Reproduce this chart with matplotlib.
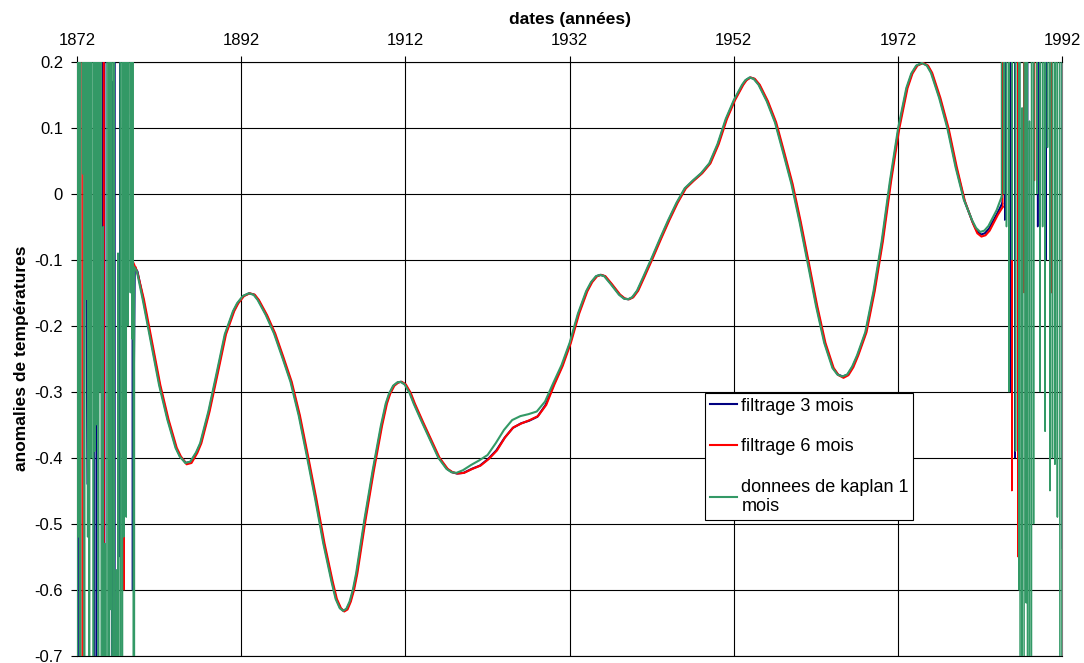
import numpy as np
import matplotlib
matplotlib.use("Agg")
import matplotlib.pyplot as plt

plt.rcParams['font.family'] = ['Liberation Sans', 'DejaVu Sans']
plt.rcParams['axes.unicode_minus'] = False
plt.rcParams['path.simplify'] = False

# ---------------- data ----------------
# filtered (smooth) part: years and anomaly values
years_smooth = [1879.0, 1879.3, 1880.0, 1881.0, 1882.0, 1883.0, 1884.0, 1884.5, 1885.2, 1885.8,
                1886.5, 1887.0, 1888.0, 1889.0, 1890.0, 1891.0, 1891.5, 1892.2, 1892.9, 1893.5,
                1894.0, 1895.0, 1896.0, 1897.0, 1898.0, 1899.0, 1900.0, 1901.0, 1902.0, 1903.0,
                1903.5, 1904.0, 1904.4, 1904.8, 1905.2, 1905.6, 1906.0, 1907.0, 1908.0, 1909.0,
                1909.6, 1910.0, 1910.5, 1911.0, 1911.4, 1911.9, 1912.5, 1913.0, 1914.0, 1915.0,
                1916.0, 1917.0, 1917.6, 1918.2, 1919.0, 1920.0, 1921.0, 1922.0, 1923.0, 1924.0,
                1925.0, 1926.0, 1927.0, 1928.0, 1929.0, 1930.0, 1931.0, 1932.0, 1933.0, 1934.0,
                1934.6, 1935.2, 1935.7, 1936.2, 1937.0, 1938.0, 1938.6, 1939.1, 1939.6, 1940.2,
                1941.0, 1942.0, 1943.0, 1944.0, 1945.0, 1946.0, 1947.0, 1948.0, 1949.0, 1950.0,
                1951.0, 1952.0, 1953.0, 1953.4, 1953.9, 1954.4, 1955.0, 1956.0, 1957.0, 1958.0,
                1959.0, 1960.0, 1961.0, 1962.0, 1963.0, 1964.0, 1964.6, 1965.2, 1965.8, 1966.4,
                1967.0, 1968.0, 1969.0, 1970.0, 1971.0, 1972.0, 1973.0, 1973.6, 1974.2, 1974.9,
                1975.5, 1976.0, 1977.0, 1978.0, 1979.0, 1980.0, 1981.0, 1981.5, 1982.0, 1982.5,
                1983.0, 1984.0, 1984.6]

kaplan_smooth = [-0.112, -0.118, -0.160, -0.225, -0.290, -0.342, -0.385, -0.398, -0.408, -0.406,
                 -0.392, -0.378, -0.330, -0.272, -0.213, -0.178, -0.166, -0.155, -0.151, -0.153,
                 -0.161, -0.184, -0.212, -0.248, -0.285, -0.336, -0.398, -0.462, -0.530, -0.588,
                 -0.614, -0.628, -0.632, -0.629, -0.618, -0.600, -0.575, -0.494, -0.420, -0.352,
                 -0.318, -0.303, -0.291, -0.286, -0.285, -0.289, -0.302, -0.318, -0.346, -0.373,
                 -0.400, -0.417, -0.422, -0.423, -0.419, -0.411, -0.404, -0.396, -0.378, -0.358,
                 -0.343, -0.337, -0.334, -0.330, -0.315, -0.287, -0.260, -0.226, -0.182, -0.148,
                 -0.134, -0.125, -0.123, -0.125, -0.137, -0.153, -0.159, -0.160, -0.157, -0.147,
                 -0.125, -0.097, -0.068, -0.040, -0.014, 0.008, 0.020, 0.031, 0.046, 0.075,
                 0.113, 0.142, 0.165, 0.172, 0.176, 0.174, 0.165, 0.140, 0.108, 0.062,
                 0.015, -0.043, -0.106, -0.170, -0.226, -0.264, -0.274, -0.277, -0.274, -0.262,
                 -0.245, -0.210, -0.148, -0.072, 0.019, 0.099, 0.160, 0.182, 0.194, 0.198,
                 0.194, 0.183, 0.145, 0.099, 0.040, -0.009, -0.040, -0.052, -0.058, -0.056,
                 -0.049, -0.025, -0.005]

filt3_smooth = [-0.112, -0.118, -0.160, -0.225, -0.290, -0.342, -0.385, -0.398, -0.408, -0.406,
                -0.392, -0.378, -0.330, -0.272, -0.213, -0.178, -0.166, -0.155, -0.151, -0.153,
                -0.161, -0.184, -0.212, -0.248, -0.285, -0.336, -0.398, -0.462, -0.530, -0.588,
                -0.614, -0.628, -0.632, -0.629, -0.618, -0.600, -0.575, -0.494, -0.420, -0.352,
                -0.318, -0.303, -0.291, -0.286, -0.285, -0.289, -0.302, -0.318, -0.346, -0.373,
                -0.400, -0.417, -0.422, -0.424, -0.423, -0.417, -0.412, -0.402, -0.389, -0.370,
                -0.355, -0.348, -0.344, -0.338, -0.320, -0.289, -0.261, -0.226, -0.182, -0.148,
                -0.134, -0.125, -0.123, -0.125, -0.137, -0.153, -0.159, -0.160, -0.157, -0.147,
                -0.125, -0.097, -0.068, -0.040, -0.014, 0.008, 0.020, 0.031, 0.046, 0.075,
                0.113, 0.142, 0.165, 0.172, 0.176, 0.174, 0.165, 0.140, 0.108, 0.062,
                0.015, -0.043, -0.106, -0.170, -0.226, -0.264, -0.274, -0.277, -0.274, -0.262,
                -0.245, -0.210, -0.148, -0.072, 0.019, 0.099, 0.160, 0.182, 0.194, 0.198,
                0.194, 0.183, 0.145, 0.099, 0.040, -0.010, -0.043, -0.056, -0.062, -0.060,
                -0.053, -0.030, -0.015]

filt6_smooth = [-0.112, -0.124, -0.160, -0.225, -0.290, -0.342, -0.385, -0.398, -0.410, -0.408,
                -0.393, -0.378, -0.330, -0.272, -0.213, -0.178, -0.166, -0.155, -0.151, -0.153,
                -0.161, -0.184, -0.212, -0.248, -0.285, -0.336, -0.398, -0.462, -0.530, -0.588,
                -0.614, -0.628, -0.633, -0.630, -0.618, -0.600, -0.575, -0.494, -0.420, -0.352,
                -0.318, -0.303, -0.291, -0.286, -0.285, -0.289, -0.302, -0.318, -0.346, -0.373,
                -0.400, -0.417, -0.422, -0.424, -0.423, -0.417, -0.412, -0.402, -0.389, -0.369,
                -0.354, -0.348, -0.343, -0.337, -0.320, -0.289, -0.261, -0.226, -0.182, -0.148,
                -0.134, -0.125, -0.123, -0.125, -0.137, -0.153, -0.159, -0.160, -0.157, -0.147,
                -0.125, -0.097, -0.068, -0.040, -0.014, 0.008, 0.020, 0.031, 0.046, 0.075,
                0.113, 0.142, 0.165, 0.172, 0.176, 0.174, 0.165, 0.140, 0.108, 0.062,
                0.015, -0.043, -0.106, -0.170, -0.226, -0.264, -0.275, -0.279, -0.275, -0.263,
                -0.245, -0.210, -0.148, -0.072, 0.019, 0.099, 0.160, 0.182, 0.194, 0.198,
                0.194, 0.183, 0.145, 0.099, 0.040, -0.012, -0.046, -0.060, -0.065, -0.063,
                -0.056, -0.032, -0.020]

# filter delays (years)
delay_3m = 0.07
delay_6m = 0.15

# edge-effect (unstable) values, green: step 0.1 year; huge swings, mostly off-scale
kaplan_step = 0.1
kaplan_left_start = 1872.0
kaplan_left = [-10, 10, -0.52, 10, -10, 10, 10, 0.03, 10, -10,
               10, -0.16, 10, -0.52, 10, -10, 10, -0.40, 10, 10,
               -10, 10, -0.39, 10, -0.35, 10, -10, 10, -0.30, 10,
               -10, -10, -0.05, -10, -0.53, -10, -10, 10, 10, -10,
               10, -0.63, 10, -10, -10, 10, -10, -10, -0.57, -10,
               -0.09, -10, -10, 10, -10, -10, 10, -0.52, 10, 10,
               -0.49, 10, -0.20, 10, 10, -0.15, 10, -0.22, 10, -10]
kaplan_right_start = 1984.7
kaplan_right = [10, 10, 0.00, 10, 10, -0.05, 10, 10, -0.30, 10,
                10, 10, -0.10, 10, 10, 10, -0.39, 10, 10, 10,
                -0.60, 10, -10, -10, 0.13, -10, -10, 10, 10, -0.62,
                10, -10, -10, 0.11, -10, -10, 10, 10, -0.50, 10,
                10, 10, 0.00, 10, 10, 10, -0.30, 10, 10, -0.05,
                10, 10, -0.36, 10, 10, 0.07, 10, 10, -0.45, 10,
                10, -0.40, 10, 10, -0.41, 10, 10, -0.49, 10, 10,
                -0.50, -10, -10, 10]

# 3- and 6-month filtered edges, step 0.25 year
filt_step = 0.25
filt3_left_start = 1872.0
filt3_left = [10, -10, 10, 10, 0.146, -0.44, 10, 10, 10, -10,
              10, 10, 10, -10, 10, 10, -10, 0.17, -10, 10,
              10, -0.55, 10, 10, 10, 10, 10, -0.60]
filt3_right_start = 1984.75
filt3_right = [10, -0.04, 10, 10, -0.30, 10, -0.40, 10, -0.55, 10,
               10, 10, -0.10, 10, 10, 10, 10, -0.05, 10, 10,
               10, -0.10, 10, 10, -0.15, 10, 10, 10, 10, -0.537]
filt6_left_start = 1872.0
filt6_left = [10, 10, 10, -10, 10, 10, 10, 10, 10, -0.08,
              10, 10, 10, -0.62, 10, 10, 10, 10, 0.12, 10,
              10, 10, 10, -0.60, 10, 0.12, 10, -0.10]
filt6_right_start = 1984.85
filt6_right = [10, 10, 10, 10, -0.45, 10, 10, -0.55, 10, 10,
               -0.15, 10, 10, 10, 10, 0.02, 10, 10, 10, 10,
               10, 10, 10, -0.15, 10, 10, 10, 10, 10, -0.30]

labels = ["filtrage 3 mois", "filtrage 6 mois", "donnees de kaplan 1\nmois"]
colors = ["#000080", "#FF0000", "#339966"]

x_ticks = [1872, 1892, 1912, 1932, 1952, 1972, 1992]
y_ticks = [0.2, 0.1, 0, -0.1, -0.2, -0.3, -0.4, -0.5, -0.6, -0.7]
y_ticklabels = ["0.2", "0.1", "0", "-0.1", "-0.2", "-0.3", "-0.4", "-0.5", "-0.6", "-0.7"]


def pieces(left_start, left_vals, left_step, sm_years, sm_vals, delay, right_start, right_vals, right_step):
    xs = np.asarray(sm_years, dtype=float) + delay
    ys = np.asarray(sm_vals, dtype=float)
    xl = left_start + left_step * np.arange(len(left_vals))
    xr = right_start + right_step * np.arange(len(right_vals))
    # edges joined to the first / last filtered value
    xl = np.append(xl, xs[0])
    yl = np.append(np.asarray(left_vals, float), ys[0])
    xr = np.insert(xr, 0, xs[-1])
    yr = np.insert(np.asarray(right_vals, float), 0, ys[-1])
    return (xs, ys), (xl, yl), (xr, yr)


series = [
    pieces(filt3_left_start, filt3_left, filt_step, years_smooth, filt3_smooth, delay_3m,
           filt3_right_start, filt3_right, filt_step),
    pieces(filt6_left_start, filt6_left, filt_step, years_smooth, filt6_smooth, delay_6m,
           filt6_right_start, filt6_right, filt_step),
    pieces(kaplan_left_start, kaplan_left, kaplan_step, years_smooth, kaplan_smooth, 0.0,
           kaplan_right_start, kaplan_right, kaplan_step),
]

# ---------------- figure ----------------
fig = plt.figure(figsize=(10.84, 6.63), dpi=100)
ax = fig.add_axes([0.071, 0.011, 0.909, 0.896])

for k, ((xs, ys), (xl, yl), (xr, yr)) in enumerate(series):
    z = 3 + k
    ax.plot(xs, ys, color=colors[k], lw=1.5, label=labels[k], zorder=z)
    ax.plot(xl, yl, color=colors[k], lw=1.1, zorder=z)
    ax.plot(xr, yr, color=colors[k], lw=1.1, zorder=z)

ax.set_xlim(1872, 1992)
ax.set_ylim(-0.7, 0.2)
ax.set_xticks(x_ticks)
ax.set_yticks(y_ticks)
ax.set_yticklabels(y_ticklabels)
ax.xaxis.tick_top()
ax.xaxis.set_label_position('top')
ax.tick_params(axis='both', direction='out', length=4, width=0.8, labelsize=12, color='black')
ax.tick_params(axis='x', pad=6)
ax.tick_params(axis='y', pad=6)
ax.grid(True, color='black', lw=0.8, zorder=1)
ax.set_axisbelow(True)
for s in ['top', 'bottom', 'left']:
    ax.spines[s].set_color('black')
    ax.spines[s].set_linewidth(0.8)
ax.spines['right'].set_color('#808080')
ax.spines['right'].set_linewidth(0.8)

ax.set_xlabel("dates (années)", fontsize=12.5, fontweight='bold', labelpad=6)
ax.set_ylabel("anomalies de températures", fontsize=12.5, fontweight='bold', labelpad=4)

leg = ax.legend(loc='upper left', bbox_to_anchor=(0.6376, 0.442), borderaxespad=0,
                fontsize=13, frameon=True, fancybox=False, framealpha=1,
                edgecolor='black', handlelength=1.5, handletextpad=0.25,
                labelspacing=1.3, borderpad=0.25)
leg.get_frame().set_linewidth(0.8)

fig.savefig("out.png", dpi=100)
